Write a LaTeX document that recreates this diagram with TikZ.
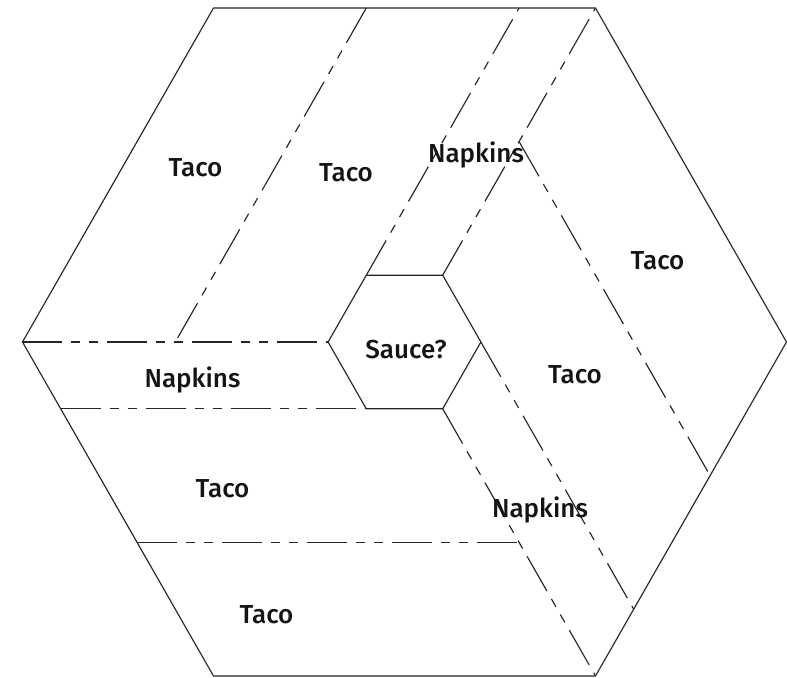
\documentclass[tikz,border=0pt]{standalone}
\usepackage{fontspec}
\setmainfont{Fira Sans}[UprightFont={* Medium}]
\begin{document}
\begin{tikzpicture}[x=382bp, y=334bp,
  edge/.style={draw=black!85, line width=1.15bp},
  cut/.style={edge, dash pattern=on 40bp off 9bp on 9bp off 9bp on 9bp off 9bp},
  lbl/.style={font=\fontsize{26bp}{30bp}\selectfont, anchor=base, inner sep=0pt, text=black!92}]
\useasboundingbox[fill=white] (-404.5bp,-336bp) rectangle (382.5bp,342bp);
% outer hexagon
\coordinate (oR) at (1,0);
\coordinate (oTR) at (0.5,1);
\coordinate (oTL) at (-0.5,1);
\coordinate (oL) at (-1,0);
\coordinate (oBL) at (-0.5,-1);
\coordinate (oBR) at (0.5,-1);
% inner hexagon
\coordinate (iR) at (0.2,0);
\coordinate (iTR) at (0.1,0.2);
\coordinate (iTL) at (-0.1,0.2);
\coordinate (iL) at (-0.2,0);
\coordinate (iBL) at (-0.1,-0.2);
\coordinate (iBR) at (0.1,-0.2);
% cut end points
\coordinate (a1) at (0.3,1);
\coordinate (d1s) at (-0.1,1);
\coordinate (d1e) at (-0.6,0);
\coordinate (a2) at (-0.9,-0.2);
\coordinate (d2s) at (-0.7,-0.6);
\coordinate (d2e) at (0.3,-0.6);
\coordinate (a3) at (0.6,-0.8);
\coordinate (d3s) at (0.8,-0.4);
\coordinate (d3e) at (0.3,0.6);
% cuts
\draw[cut] (iTL) -- (a1);
\draw[cut] (iTR) -- (oTR);
\draw[cut] (d1s) -- (d1e);
\draw[cut] (a2) -- (iBL);
\draw[cut] (oL) -- (iL);
\draw[cut] (d2s) -- (d2e);
\draw[cut] (iR) -- (a3);
\draw[cut] (iBR) -- (oBR);
\draw[cut] (d3e) -- (d3s);
% hexagons
\draw[edge, line join=round] (oR) -- (oTR) -- (oTL) -- (oL) -- (oBL) -- (oBR) -- cycle;
\draw[edge, line join=round] (iR) -- (iTR) -- (iTL) -- (iL) -- (iBL) -- (iBR) -- cycle;
% labels
\node[lbl] (t1) at (-209bp,165bp) {Taco};
\node[lbl] (t2) at (-58.5bp,160bp) {Taco};
\node[lbl] (n1) at (71.5bp,179bp) {Napkins};
\node[lbl] (t3) at (253bp,72bp) {Taco};
\node[lbl] (s) at (1.5bp,-16bp) {Sauce?};
\node[lbl] (t4) at (170.5bp,-41bp) {Taco};
\node[lbl] (n2) at (-212bp,-45bp) {Napkins};
\node[lbl] (t5) at (-182bp,-155bp) {Taco};
\node[lbl] (n3) at (135.5bp,-175bp) {Napkins};
\node[lbl] (t6) at (-138bp,-281bp) {Taco};
\end{tikzpicture}
\end{document}
